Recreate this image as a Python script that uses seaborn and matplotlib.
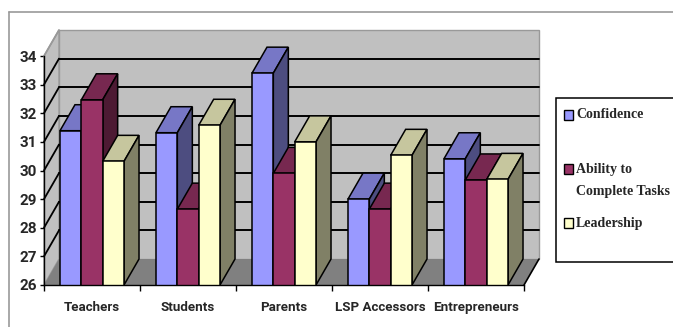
import numpy as np
import pandas as pd
import seaborn as sns
import matplotlib
matplotlib.use("Agg")
import matplotlib.pyplot as plt
from matplotlib.patches import Polygon, Rectangle
from matplotlib.lines import Line2D

categories = ["Teachers", "Students", "Parents", "LSP Accessors", "Entrepreneurs"]
series_names = ["Confidence", "Ability to Complete Tasks", "Leadership"]
confidence = [31.39, 31.32, 33.40, 29.00, 30.41]
ability = [32.47, 28.65, 29.90, 28.65, 29.67]
leadership = [30.32, 31.58, 31.00, 30.53, 29.69]
front_colors = ["#9999FF", "#993366", "#FFFFCC"]
top_colors = ["#7777C6", "#772850", "#C6C69E"]
side_colors = ["#4D4D80", "#4D1A33", "#808066"]
y_ticks = list(range(26, 35))

W, H = 673, 327
sns.set_style("white")
plt.rcParams["font.family"] = ["Roboto", "DejaVu Sans"]

df = pd.DataFrame({
    "group": categories * 3,
    "series": sum([[n] * 5 for n in series_names], []),
    "value": confidence + ability + leadership,
})

fig = plt.figure(figsize=(W / 100, H / 100), dpi=100)
ax = fig.add_axes([44 / W, 1 - 285 / H, 480 / W, 229 / H])
ax.patch.set_visible(False)

sns.barplot(data=df, x="group", y="value", hue="series", order=categories,
            hue_order=series_names, palette=front_colors, saturation=1,
            width=0.667, edgecolor="black", linewidth=1.1, legend=False, ax=ax)
ax.set_xlim(-0.5, 4.5)
ax.set_ylim(26, 34)
ax.set_xlabel("")
ax.set_ylabel("")

dx = 15 / 96
dy = 26 / 28.625
x0, x1 = -0.5, 4.5


def poly(pts, fc, ec="black", lw=1.1, z=2):
    ax.add_patch(Polygon(pts, closed=True, facecolor=fc, edgecolor=ec,
                         linewidth=lw, zorder=z, clip_on=False))


# walls and floor
poly([(x0 + dx, 26 + dy), (x1 + dx, 26 + dy), (x1 + dx, 34 + dy), (x0 + dx, 34 + dy)], "#C0C0C0", "#999999", 1.0, 0.5)
poly([(x0, 26), (x0 + dx, 26 + dy), (x0 + dx, 34 + dy), (x0, 34)], "#C0C0C0", "#999999", 1.0, 0.5)
poly([(x0, 26), (x1, 26), (x1 + dx, 26 + dy), (x0 + dx, 26 + dy)], "#808080", "none", 0, 0.6)

for t in y_ticks[1:]:
    last = t == 34
    color = "#999999" if last else "black"
    ax.plot([x0, x0 + dx], [t, t + dy], color=color, lw=1.3, zorder=0.7, clip_on=False)
    if not last:
        ax.plot([x0 + dx, x1 + dx], [t + dy, t + dy], color="black", lw=1.4, zorder=0.7, clip_on=False)
ax.plot([x1, x1 + dx], [26, 26 + dy], color="black", lw=1.2, zorder=0.7, clip_on=False)

# 3D faces on the bars seaborn drew
bars = [p for p in list(ax.patches) if isinstance(p, Rectangle) and p.get_width() < 1 and p.get_height() > 0]
bars = sorted(bars, key=lambda b: b.get_x())
for i, b in enumerate(bars):
    xl, w, v = b.get_x(), b.get_width(), b.get_height()
    s = i % 3
    z = 3 + i
    poly([(xl, v), (xl + w, v), (xl + w + dx, v + dy), (xl + dx, v + dy)], top_colors[s], z=z)
    poly([(xl + w, 26), (xl + w, v), (xl + w + dx, v + dy), (xl + w + dx, 26 + dy)], side_colors[s], z=z)
    b.set_zorder(z + 0.5)

# axes
for name in ["top", "right"]:
    ax.spines[name].set_visible(False)
for name in ["left", "bottom"]:
    ax.spines[name].set_color("black")
    ax.spines[name].set_linewidth(1.0)
    ax.spines[name].set_zorder(30)
ax.set_yticks(y_ticks)
ax.set_yticklabels([str(t) for t in y_ticks], fontsize=11, fontweight="bold")
ax.tick_params(axis="y", left=True, length=3, width=1, color="black", pad=2)
ax.set_xticks(range(5))
ax.set_xticklabels(categories, fontsize=9.6, fontweight="bold")
ax.tick_params(axis="x", bottom=False, pad=8)
ax.set_xticks(np.arange(-0.5, 5, 1), minor=True)
ax.tick_params(axis="x", which="minor", bottom=True, length=4, width=1, color="black")


def fx(px):
    return px / W


def fy(py):
    return 1 - py / H


# outer chart frame
fig.add_artist(Line2D([fx(9), fx(673)], [fy(12), fy(12)], color="#999999", lw=1.2))
fig.add_artist(Line2D([fx(9), fx(9)], [fy(12), fy(327)], color="#999999", lw=1.2))

# legend panel
fig.add_artist(Rectangle((fx(555.5), fy(262)), fx(130), 164 / H, facecolor="white",
                         edgecolor="black", linewidth=1.1, transform=fig.transFigure))
legend_rows = [(115, 0, "Confidence"), (169, 1, "Ability to"), (223, 2, "Leadership")]
for py, s, label in legend_rows:
    fig.add_artist(Rectangle((fx(564), fy(py + 5)), 8.5 / W, 10 / H, facecolor=front_colors[s],
                             edgecolor="black", linewidth=1.0, transform=fig.transFigure))
    fig.text(fx(576), fy(py), label, family="Liberation Serif", fontweight="bold",
             fontsize=10, va="center", ha="left")
fig.text(fx(576), fy(192), "Complete Tasks", family="Liberation Serif", fontweight="bold",
         fontsize=10, va="center", ha="left")

fig.savefig("out.png", dpi=100, facecolor="white")
